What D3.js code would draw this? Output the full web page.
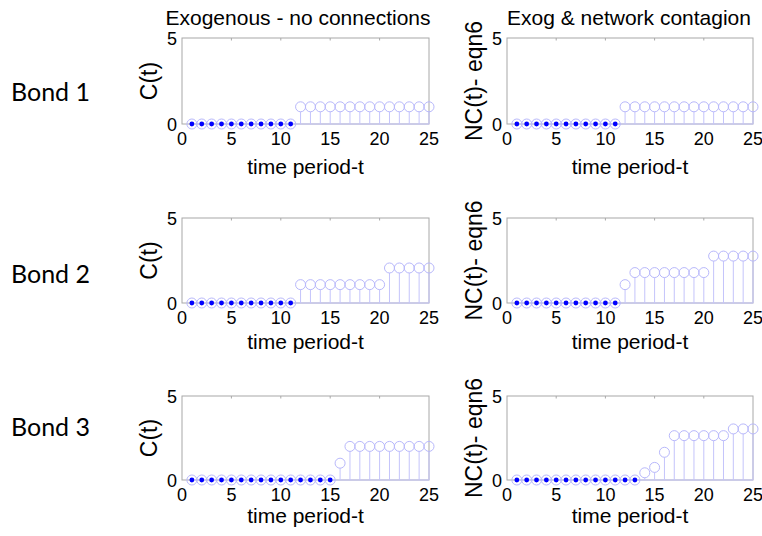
<!DOCTYPE html>
<html>
<head>
<meta charset="utf-8">
<script src="https://cdn.jsdelivr.net/npm/d3@7"></script>
<style>
  body { margin: 0; background: #fff; }
  svg { display: block; }
</style>
</head>
<body>
<div id="chart"></div>
<script>
// time periods and series
var periods = [1,2,3,4,5,6,7,8,9,10,11,12,13,14,15,16,17,18,19,20,21,22,23,24,25];
var bondNames = ["Bond 1", "Bond 2", "Bond 3"];
var colTitles = ["Exogenous - no connections", "Exog & network contagion"];
var yLabels = ["C(t)", "NC(t)- eqn6"];
var xTicks = [0, 5, 10, 15, 20, 25];
var yTicks = [0, 5];

var bond1C  = [0,0,0,0,0,0,0,0,0,0,0,1,1,1,1,1,1,1,1,1,1,1,1,1,1];
var bond1NC = [0,0,0,0,0,0,0,0,0,0,0,1,1,1,1,1,1,1,1,1,1,1,1,1,1];
var bond2C  = [0,0,0,0,0,0,0,0,0,0,0,1.08,1.08,1.08,1.08,1.08,1.08,1.08,1.08,1.08,2.06,2.06,2.06,2.06,2.06];
var bond2NC = [0,0,0,0,0,0,0,0,0,0,0,1.08,1.79,1.79,1.79,1.79,1.79,1.79,1.79,1.79,2.76,2.76,2.76,2.76,2.76];
var bond3C  = [0,0,0,0,0,0,0,0,0,0,0,0,0,0,0,1,2,2,2,2,2,2,2,2,2];
var bond3NC = [0,0,0,0,0,0,0,0,0,0,0,0,0,0.43,0.75,1.65,2.64,2.64,2.64,2.64,2.64,2.64,3.04,3.04,3.04];

var series = [[bond1C, bond1NC], [bond2C, bond2NC], [bond3C, bond3NC]];

var width = 762, height = 536;
var rowTop = [38, 218, 396];
var rowH = [86, 85, 84];
var xLabelY = [174, 349, 523];
var bondY = [101, 283, 436];
var colX = [[182, 429], [507, 753]];
var yLabelX = [157, 482];
var titleX = [298, 629];

var stemColor = "#c4c4fb";
var circColor = "#b8b8fb";
var axisColor = "#a8a8a8";
var font = "'Liberation Sans', Arial, sans-serif";

var svg = d3.select("#chart").append("svg")
    .attr("width", width)
    .attr("height", height);

// bond labels on the left
svg.selectAll(".bond")
    .data(bondNames)
    .enter()
    .append("text")
    .attr("class", "bond")
    .attr("x", 11)
    .attr("y", function (d, i) { return bondY[i]; })
    .attr("font-family", "Lato, 'Open Sans', sans-serif")
    .attr("font-size", "25px")
    .attr("fill", "#000")
    .text(function (d) { return d; });

series.forEach(function (row, r) {
  row.forEach(function (vals, c) {
    var x = d3.scaleLinear().domain([0, 25]).range(colX[c]);
    var y = d3.scaleLinear().domain([0, 5]).range([rowTop[r] + rowH[r], rowTop[r]]);
    var g = svg.append("g");

    // axes box
    g.append("rect")
        .attr("x", x(0))
        .attr("y", y(5))
        .attr("width", x(25) - x(0))
        .attr("height", y(0) - y(5))
        .attr("fill", "none")
        .attr("stroke", axisColor)
        .attr("stroke-width", 1);

    // small inward ticks on the box
    g.selectAll(".tb")
        .data(xTicks.slice(1, -1))
        .enter()
        .append("line")
        .attr("x1", function (d) { return x(d); })
        .attr("x2", function (d) { return x(d); })
        .attr("y1", y(5))
        .attr("y2", y(5) + 2.5)
        .attr("stroke", axisColor);

    var data = periods.map(function (p, i) { return { t: p, v: vals[i] }; });

    // stems
    g.selectAll(".stem")
        .data(data.filter(function (d) { return d.v > 0; }))
        .enter()
        .append("line")
        .attr("x1", function (d) { return x(d.t); })
        .attr("x2", function (d) { return x(d.t); })
        .attr("y1", y(0))
        .attr("y2", function (d) { return y(d.v) + 5; })
        .attr("stroke", stemColor)
        .attr("stroke-width", 1);

    // baseline through the zero stems
    g.append("line")
        .attr("x1", x(d3.min(periods)))
        .attr("x2", x(d3.max(periods)))
        .attr("y1", y(0))
        .attr("y2", y(0))
        .attr("stroke", stemColor)
        .attr("stroke-width", 1);

    // open circle markers
    g.selectAll(".mk")
        .data(data)
        .enter()
        .append("circle")
        .attr("cx", function (d) { return x(d.t); })
        .attr("cy", function (d) { return y(d.v); })
        .attr("r", 5)
        .attr("fill", "none")
        .attr("stroke", circColor)
        .attr("stroke-width", 1);

    // filled dots where the value is zero
    g.selectAll(".dot")
        .data(data.filter(function (d) { return d.v === 0; }))
        .enter()
        .append("circle")
        .attr("cx", function (d) { return x(d.t); })
        .attr("cy", function (d) { return y(d.v); })
        .attr("r", 2.4)
        .attr("fill", "#0000ff");

    // tick labels
    g.selectAll(".xt")
        .data(xTicks)
        .enter()
        .append("text")
        .attr("x", function (d) { return x(d); })
        .attr("y", y(0) + 21)
        .attr("text-anchor", "middle")
        .attr("font-family", font)
        .attr("font-size", "18px")
        .text(function (d) { return d; });

    g.selectAll(".yt")
        .data(yTicks)
        .enter()
        .append("text")
        .attr("x", x(0) - 5)
        .attr("y", function (d) { return y(d) + 6.5; })
        .attr("text-anchor", "end")
        .attr("font-family", font)
        .attr("font-size", "18px")
        .text(function (d) { return d; });

    // axis labels
    g.append("text")
        .attr("x", (x(0) + x(25)) / 2)
        .attr("y", xLabelY[r])
        .attr("text-anchor", "middle")
        .attr("font-family", font)
        .attr("font-size", "21px")
        .text("time period-t");

    g.append("text")
        .attr("transform", "translate(" + yLabelX[c] + "," + ((y(0) + y(5)) / 2) + ") rotate(-90)")
        .attr("text-anchor", "middle")
        .attr("font-family", font)
        .attr("font-size", "23px")
        .text(yLabels[c]);

    if (r === 0) {
      g.append("text")
          .attr("x", titleX[c])
          .attr("y", 25)
          .attr("text-anchor", "middle")
          .attr("font-family", font)
          .attr("font-size", "21px")
          .text(colTitles[c]);
    }
  });
});
</script>
</body>
</html>
